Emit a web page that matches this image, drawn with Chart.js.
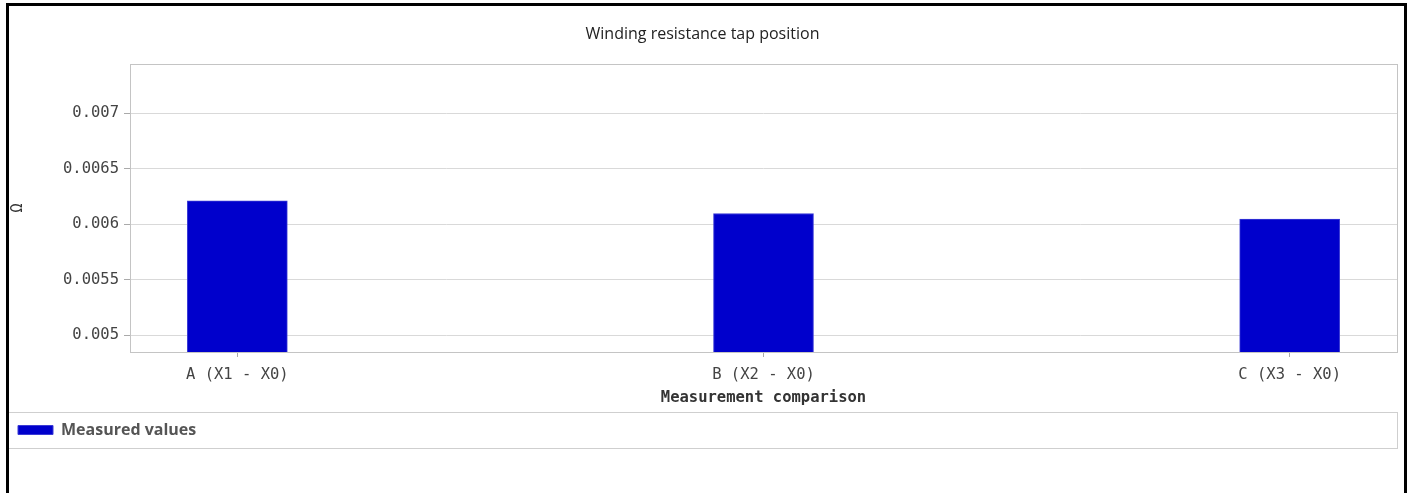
<!DOCTYPE html>
<html>
<head>
<meta charset="utf-8">
<script src="https://cdn.jsdelivr.net/npm/chart.js@4/dist/chart.umd.min.js"></script>
<style>
  html, body { margin: 0; padding: 0; background: #fff; overflow: hidden; }
  #wrap { position: relative; width: 1414px; height: 493px; overflow: hidden; background: #fff; }
  #frame { position: absolute; left: 6px; top: 3px; width: 1395px; height: 600px;
           border-left: 3px solid #000; border-top: 3px solid #000; border-right: 3px solid #000; pointer-events: none; }
  canvas { position: absolute; left: 0; top: 0; }
</style>
</head>
<body>
<div id="wrap">
  <canvas id="c" width="1414" height="493"></canvas>
  <div id="frame"></div>
</div>
<script>
const chartTitle = 'Winding resistance tap position';
const categories = ['A (X1 - X0)', 'B (X2 - X0)', 'C (X3 - X0)'];
const measuredValues = [0.00621, 0.006096, 0.006045];
const seriesName = 'Measured values';
const xAxisTitle = 'Measurement comparison';
const yAxisTitle = 'Ω';
const yMin = 0.004847;
const yMax = 0.007445;
const yStep = 0.0005;

const mono = "'DejaVu Sans Mono', 'Liberation Mono', monospace";
const sans = "'Open Sans', 'Noto Sans', sans-serif";

const framePlugin = {
  id: 'framePlugin',
  beforeDatasetsDraw(chart) {
    const a = chart.chartArea, ctx = chart.ctx;
    ctx.save();
    ctx.strokeStyle = '#c4c4c4';
    ctx.lineWidth = 1;
    ctx.strokeRect(Math.round(a.left) + 0.5, Math.round(a.top) + 0.5,
                   Math.round(a.right - a.left), Math.round(a.bottom - a.top));
    ctx.restore();
  },
  afterDraw(chart) {
    const l = chart.legend, ctx = chart.ctx;
    if (!l) return;
    ctx.save();
    ctx.strokeStyle = '#cfcfcf';
    ctx.lineWidth = 1;
    ctx.strokeRect(Math.round(l.left) + 0.5, Math.round(l.top) + 0.5,
                   Math.round(l.right - l.left), Math.round(l.bottom - l.top));
    ctx.restore();
  }
};

new Chart(document.getElementById('c'), {
  type: 'bar',
  data: {
    datasets: [{
      label: seriesName,
      data: measuredValues.map((v, i) => ({ x: i, y: v })),
      backgroundColor: '#0000CC',
      borderColor: '#3b3bd6',
      borderWidth: 1,
      barThickness: 100
    }]
  },
  options: {
    responsive: false,
    devicePixelRatio: 1,
    animation: false,
    layout: { padding: { left: 8, right: 17, top: 0, bottom: 45 } },
    plugins: {
      title: {
        display: true,
        text: chartTitle,
        color: '#222',
        font: { family: sans, size: 16, weight: 'normal', lineHeight: 1.2 },
        padding: { top: 25, bottom: 19.8 }
      },
      legend: {
        display: true,
        position: 'bottom',
        align: 'start',
        labels: {
          boxWidth: 35,
          boxHeight: 9,
          padding: 10,
          color: '#555',
          font: { family: sans, size: 16, weight: 'bold' }
        }
      },
      tooltip: { enabled: false }
    },
    scales: {
      x: {
        type: 'linear',
        min: -0.204,
        max: 2.204,
        offset: false,
        afterBuildTicks(scale) {
          scale.ticks = categories.map((c, i) => ({ value: i }));
        },
        afterFit(scale) { scale.height = 60; },
        grid: {
          display: true,
          drawOnChartArea: false,
          offset: false,
          tickLength: 5,
          tickColor: '#aaa',
          color: '#c4c4c4'
        },
        border: { display: false },
        ticks: {
          autoSkip: false,
          maxRotation: 0,
          padding: 9,
          color: '#444',
          font: { family: mono, size: 15.5 },
          callback: (v) => categories[Math.round(v)] ?? ''
        },
        title: {
          display: true,
          text: xAxisTitle,
          color: '#333',
          font: { family: mono, size: 15.5, weight: 'bold', lineHeight: 1.2 },
          padding: { top: 0, bottom: 5 }
        }
      },
      y: {
        type: 'linear',
        min: yMin,
        max: yMax,
        afterFit(scale) { scale.width = 122; },
        grid: {
          color: '#d9d9d9',
          tickLength: 6,
          tickColor: '#aaa'
        },
        border: { display: false },
        ticks: {
          stepSize: yStep,
          includeBounds: false,
          padding: 5,
          color: '#444',
          font: { family: mono, size: 15.5 },
          callback: (v) => String(parseFloat(Number(v).toFixed(6)))
        },
        title: {
          display: true,
          text: yAxisTitle,
          color: '#333',
          font: { family: mono, size: 15, lineHeight: 1.2 },
          padding: { top: 1, bottom: 0 }
        }
      }
    }
  },
  plugins: [framePlugin]
});
</script>
</body>
</html>
